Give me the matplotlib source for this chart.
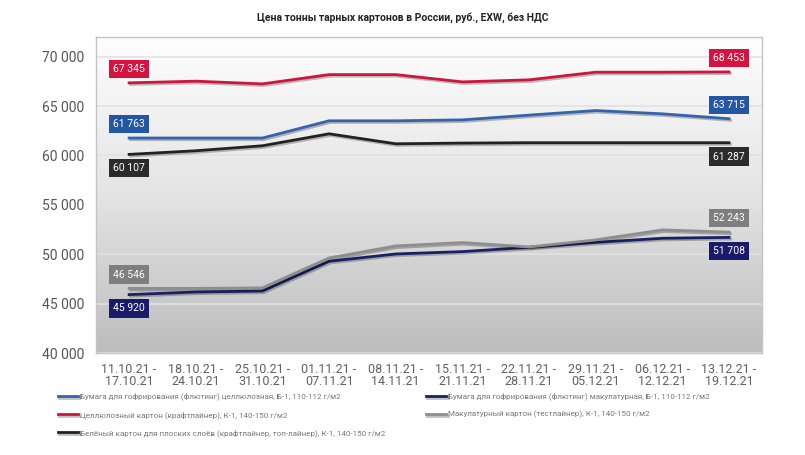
import numpy as np
import matplotlib
matplotlib.use("Agg")
import matplotlib.pyplot as plt
import matplotlib.patheffects as pe
from matplotlib.ticker import FuncFormatter

plt.rcParams['font.family'] = ['Roboto', 'DejaVu Sans']

# данные
weeks = ["11.10.21 -\n17.10.21", "18.10.21 -\n24.10.21", "25.10.21 -\n31.10.21",
         "01.11.21 -\n07.11.21", "08.11.21 -\n14.11.21", "15.11.21 -\n21.11.21",
         "22.11.21 -\n28.11.21", "29.11.21 -\n05.12.21", "06.12.21 -\n12.12.21",
         "13.12.21 -\n19.12.21"]

fluting_cell = [61763, 61763, 61763, 63505, 63505, 63600, 64080, 64545, 64210, 63715]
fluting_recycled = [45920, 46180, 46280, 49290, 50030, 50270, 50700, 51200, 51620, 51708]
kraftliner = [67345, 67515, 67240, 68180, 68180, 67444, 67650, 68424, 68424, 68453]
testliner = [46546, 46546, 46600, 49625, 50843, 51185, 50740, 51450, 52465, 52243]
white_top = [60107, 60475, 60980, 62190, 61180, 61250, 61290, 61290, 61287, 61287]

names = [
    "Бумага для гофрирования (флютинг) целлюлозная, Б-1, 110-112 г/м2",
    "Целлюлозный картон (крафтлайнер), К-1, 140-150 г/м2",
    "Белёный картон для плоских слоёв (крафтлайнер, топ-лайнер), К-1, 140-150 г/м2",
    "Бумага для гофрирования (флютинг) макулатурная, Б-1, 110-112 г/м2",
    "Макулатурный картон (тестлайнер), К-1, 140-150 г/м2",
]
series = [fluting_cell, kraftliner, white_top, fluting_recycled, testliner]
line_colors = ['#3563ad', '#cf1440', '#222222', '#1b1f64', '#8e8e8e']
box_colors = ['#2556a3', '#d8123e', '#2b2b2b', '#1a1a6b', '#7f7f7f']
label_side = [1, 1, -1, -1, 1]  # над линией или под ней

fig = plt.figure(figsize=(8.05, 4.55), dpi=100)
ax = fig.add_axes([0.119, 0.224, 0.828, 0.695])

# градиентный фон
grad = np.linspace(0, 1, 256).reshape(-1, 1)
ax.imshow(grad, extent=[0, 1, 0, 1], transform=ax.transAxes, aspect='auto',
          cmap=matplotlib.colors.LinearSegmentedColormap.from_list(
              'g', ['#fefefe', '#e4e4e4', '#bdbdbd']),
          zorder=0)

x = np.arange(len(weeks))
lines = []
for vals, c, bc, side in zip(series, line_colors, box_colors, label_side):
    ln, = ax.plot(x, vals, color=c, lw=2, zorder=3,
                  path_effects=[pe.SimpleLineShadow(offset=(1, -1.2), alpha=0.25),
                                pe.Normal()])
    lines.append(ln)
    for i in (0, len(vals) - 1):
        ax.annotate(f"{vals[i]:,}".replace(",", " "), (x[i], vals[i]),
                    xytext=(0, 10 * side), textcoords='offset points',
                    ha='center', va='center', color='white', fontsize=7.5,
                    zorder=5,
                    bbox=dict(boxstyle='square,pad=0.4', fc=bc, ec='none'))

ax.set_xlim(-0.5, len(weeks) - 0.5)
ax.set_ylim(40000, 72000)
ax.set_yticks(range(40000, 70001, 5000))
ax.yaxis.set_major_formatter(FuncFormatter(lambda v, p: f"{int(v):,}".replace(",", " ")))
ax.set_xticks(x)
ax.set_xticklabels(weeks, fontsize=9, color='#606060', linespacing=0.95)
ax.tick_params(axis='y', labelsize=10, colors='#555555', length=0, pad=8)
ax.tick_params(axis='x', length=0, pad=7)
ax.grid(axis='y', color='#e2e2e2', lw=1.2, zorder=1)
ax.set_axisbelow(True)
for s in ax.spines.values():
    s.set_color('#c4c4c4')
    s.set_linewidth(1)

fig.text(0.5, 0.962, "Цена тонны тарных картонов в России, руб., EXW, без НДС",
         ha='center', va='center', fontsize=7.5, fontweight='bold', color='#222222')

fig.legend(lines, names, loc='upper left', bbox_to_anchor=(0.072, 0.137),
           ncol=2, frameon=False, fontsize=5.8, labelcolor='#777777',
           handlelength=2.5, handletextpad=0.2, columnspacing=5.1,
           labelspacing=1.3, borderaxespad=0, borderpad=0)

fig.savefig("out.png", dpi=100)
